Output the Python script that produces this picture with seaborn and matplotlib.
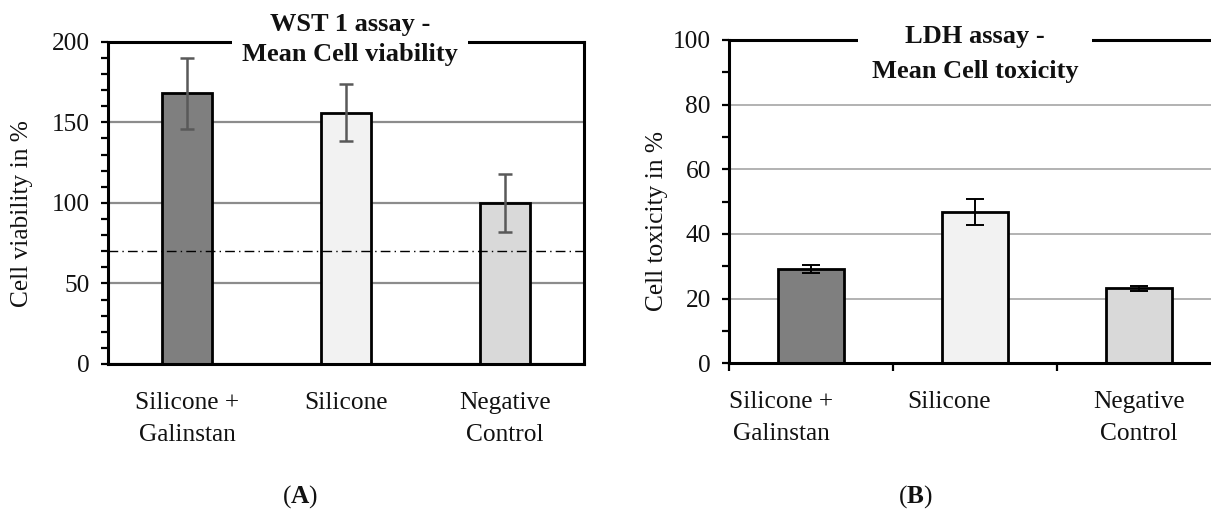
import numpy as np
import pandas as pd
import matplotlib
matplotlib.use("Agg")
import matplotlib.pyplot as plt
import seaborn as sns
from matplotlib.ticker import MultipleLocator, FixedLocator

# ---------------- data ----------------
categories = ["Silicone +\nGalinstan", "Silicone", "Negative\nControl"]
wst_mean = [168, 156, 100]
wst_err = [22, 17.5, 18]
wst_threshold = 70
ldh_mean = [29.2, 46.8, 23.2]
ldh_err = [1.2, 3.9, 0.75]
bar_colors = ["#7f7f7f", "#f2f2f2", "#d9d9d9"]
title_a = "WST 1 assay -\nMean Cell viability"
title_b = "LDH assay -\nMean Cell toxicity"
ylabel_a = "Cell viability in %"
ylabel_b = "Cell toxicity in %"

# ---------------- style ----------------
sns.set_theme(style="white")
plt.rcParams['font.family'] = ['Liberation Serif', 'DejaVu Serif']
plt.rcParams['mathtext.fontset'] = 'custom'
plt.rcParams['mathtext.rm'] = 'Liberation Serif'
plt.rcParams['mathtext.bf'] = 'Liberation Serif:bold'

W, H = 1211, 528
fig = plt.figure(figsize=(W / 100, H / 100), dpi=100)
fig.patch.set_facecolor("white")

axA = fig.add_axes([108 / W, (H - 364) / H, 476 / W, 322.3 / H])
axB = fig.add_axes([729 / W, (H - 363.3) / H, 492 / W, 323.3 / H])

FS = 18.3
TXT = "#111111"

# ---------------- panel A ----------------
dfA = pd.DataFrame({"cat": categories, "val": wst_mean})
sns.barplot(data=dfA, x="cat", y="val", hue="cat", palette=bar_colors,
            width=0.315, edgecolor="black", linewidth=2, legend=False,
            errorbar=None, ax=axA)
axA.set_axisbelow(True)
axA.errorbar(x=np.arange(len(categories)), y=wst_mean, yerr=wst_err, fmt="none",
             ecolor="#595959", elinewidth=1.8, capsize=5, capthick=1.8, zorder=5)
axA.axhline(wst_threshold, color="black", lw=1.0, ls=(0, (7, 3, 1, 3)), zorder=6)
axA.set_xlim(-0.5, 2.5)
axA.set_ylim(0, 200)
axA.yaxis.set_major_locator(MultipleLocator(50))
axA.yaxis.set_minor_locator(MultipleLocator(10))
axA.yaxis.grid(True, which="major", color="#8c8c8c", lw=1.6)
axA.tick_params(axis="y", which="both", direction="out", length=5, width=1.6,
                left=True, color="black", labelsize=FS, pad=8, labelcolor=TXT)
axA.tick_params(axis="x", which="both", length=0, labelsize=FS, pad=20, labelcolor=TXT)
for lab in axA.get_xticklabels():
    lab.set_linespacing(1.6)
for s in axA.spines.values():
    s.set_visible(True)
    s.set_color("black")
    s.set_linewidth(2.2)
axA.set_xlabel("")
axA.set_ylabel(ylabel_a, fontsize=FS, color=TXT)
axA.yaxis.set_label_coords(-0.158, 0.468)
axA.annotate(title_a, xy=(0.508, 1.0), xycoords="axes fraction", xytext=(0, 1.5),
             textcoords="offset points", ha="center", va="center", fontsize=19,
             fontweight="bold", linespacing=1.4, color=TXT,
             bbox=dict(facecolor="white", edgecolor="none", pad=7), zorder=10)

# ---------------- panel B ----------------
dfB = pd.DataFrame({"cat": categories, "val": ldh_mean})
sns.barplot(data=dfB, x="cat", y="val", hue="cat", palette=bar_colors,
            width=0.4, edgecolor="black", linewidth=2, legend=False,
            errorbar=None, ax=axB)
axB.set_axisbelow(True)
axB.errorbar(x=np.arange(len(categories)), y=ldh_mean, yerr=ldh_err, fmt="none",
             ecolor="black", elinewidth=1.4, capsize=6.5, capthick=1.4, zorder=5)
axB.set_xlim(-0.5, 2.5)
axB.set_ylim(0, 100)
axB.yaxis.set_major_locator(MultipleLocator(20))
axB.yaxis.set_minor_locator(MultipleLocator(10))
axB.yaxis.grid(True, which="major", color="#a6a6a6", lw=1.2)
axB.tick_params(axis="y", which="both", direction="out", length=5, width=1.6,
                left=True, color="black", labelsize=FS, pad=8, labelcolor=TXT)
# labels placed as in the reference (slightly left for first two), boundary tick marks
label_pos_b = [-0.18, 0.84, 2.0]
axB.set_xticks(label_pos_b)
axB.set_xticklabels(categories)
axB.xaxis.set_minor_locator(FixedLocator([-0.5, 0.5, 1.5, 2.5]))
axB.tick_params(axis="x", which="major", length=0, labelsize=FS, pad=20, labelcolor=TXT)
axB.tick_params(axis="x", which="minor", direction="out", length=6, width=1.6,
                bottom=True, color="black")
for lab in axB.get_xticklabels():
    lab.set_linespacing(1.6)
for name, s in axB.spines.items():
    s.set_color("black")
    s.set_linewidth(2.2)
    s.set_visible(name != "right")
axB.set_xlabel("")
axB.set_ylabel(ylabel_b, fontsize=FS, color=TXT)
axB.yaxis.set_label_coords(-0.124, 0.44)
axB.annotate(title_b, xy=(0.5, 1.0), xycoords="axes fraction", xytext=(0, -10),
             textcoords="offset points", ha="center", va="center", fontsize=19,
             fontweight="bold", linespacing=1.65, color=TXT,
             bbox=dict(facecolor="white", edgecolor="none", pad=10), zorder=10)

# ---------------- panel letters ----------------
fig.text(300 / W, 1 - 497 / H, r"($\mathbf{A}$)", ha="center", va="center",
         fontsize=FS, color=TXT)
fig.text(915 / W, 1 - 497 / H, r"($\mathbf{B}$)", ha="center", va="center",
         fontsize=FS, color=TXT)

fig.savefig("out.png", dpi=100, facecolor="white")
